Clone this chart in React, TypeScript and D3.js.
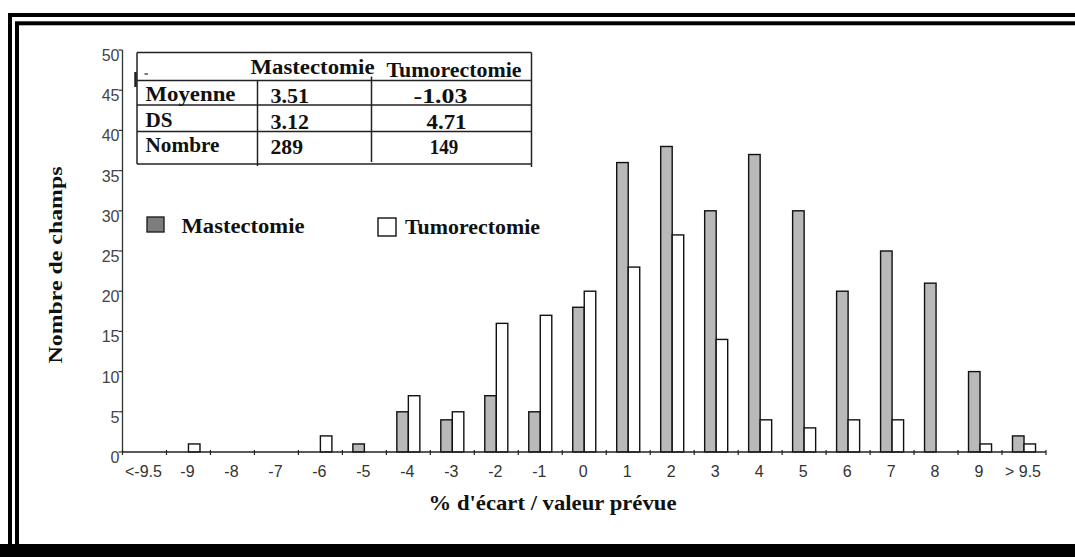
import React from "react";
import * as d3 from "d3";

const categories = ["<-9.5", "-9", "-8", "-7", "-6", "-5", "-4", "-3", "-2", "-1", "0", "1", "2", "3", "4", "5", "6", "7", "8", "9", "> 9.5"];
const mastectomie = [0, 0, 0, 0, 0, 1, 5, 4, 7, 5, 18, 36, 38, 30, 37, 30, 20, 25, 21, 10, 2];
const tumorectomie = [0, 1, 0, 0, 2, 0, 7, 5, 16, 17, 20, 23, 27, 14, 4, 3, 4, 4, 0, 1, 1];
const seriesNames = ["Mastectomie", "Tumorectomie"];
const yTickValues = [0, 5, 10, 15, 20, 25, 30, 35, 40, 45, 50];

const statHeaders = ["Mastectomie", "Tumorectomie"];
const statRows = ["Moyenne", "DS", "Nombre"];
const statMast = ["3.51", "3.12", "289"];
const statTum = ["-1.03", "4.71", "149"];

const yTitle = "Nombre de champs";
const xTitle = "% d'écart / valeur prévue";

const W = 1075;
const H = 557;
const serif = "'Liberation Serif', 'Times New Roman', serif";
const sans = "'Liberation Sans', Arial, sans-serif";

export default function App() {
  const x = d3.scaleBand<string>().domain(categories).range([122.5, 1046]);
  const sub = d3.scaleBand<string>().domain(seriesNames).range([0, x.bandwidth()]).paddingOuter(0.91);
  const y = d3.scaleLinear().domain([0, 50]).range([452, 50]);

  const bars: { key: string; x: number; y: number; w: number; h: number; fill: string }[] = [];
  categories.forEach((c, i) => {
    [mastectomie[i], tumorectomie[i]].forEach((v, s) => {
      if (v <= 0) return;
      bars.push({
        key: `${c}-${s}`,
        x: (x(c) as number) + (sub(seriesNames[s]) as number),
        y: y(v),
        w: sub.bandwidth(),
        h: y(0) - y(v),
        fill: s === 0 ? "#b9b9b9" : "#ffffff",
      });
    });
  });

  const boundaries = categories.map((c) => x(c) as number).concat([x.range()[1]]);

  // table geometry
  const tL = 137, tR = 531.5, tT = 52.5, tB = 164;
  const rowLines = [80.5, 105, 131.5];
  const col1 = 257.5, col2 = 371.5;
  const rowBase = [101, 127, 152];
  const rowLabelLen = [90, 27, 74];
  const mastLen = [38.5, 38.5, 32.5];
  const tumLen = [54, 40, 28.5];
  const tumCenter = [440.5, 446.5, 444];

  return (
    <div style={{ position: "absolute", left: 0, top: 0 }}>
      <svg width={W} height={H} style={{ display: "block", background: "#fff" }}>
        {/* double frame */}
        <rect x={10} y={15} width={W + 20} height={H} fill="none" stroke="#000" strokeWidth={4} />
        <rect x={17} y={23.3} width={W + 20} height={522.7} fill="none" stroke="#000" strokeWidth={4} />
        <rect x={0} y={544} width={W} height={13} fill="#000" />

        {/* bars */}
        {bars.map((b) => (
          <rect key={b.key} x={b.x} y={b.y} width={b.w} height={b.h} fill={b.fill} stroke="#111" strokeWidth={1.4} />
        ))}

        {/* y axis */}
        <line x1={122.5} x2={122.5} y1={y(50)} y2={y(0)} stroke="#333" strokeWidth={1.3} />
        {yTickValues.map((t) => (
          <g key={t}>
            <line x1={118.5} x2={122.5} y1={y(t)} y2={y(t)} stroke="#333" strokeWidth={1.2} />
            <text x={119.5} y={y(t) + 11} textAnchor="end" fontFamily={sans} fontSize={16} fill="#444">
              {t}
            </text>
          </g>
        ))}

        {/* x axis */}
        <line x1={122.5} x2={x.range()[1]} y1={y(0)} y2={y(0)} stroke="#222" strokeWidth={1.6} />
        {boundaries.map((bx, i) => (
          <line key={i} x1={bx} x2={bx} y1={y(0) - 2} y2={y(0) + 3} stroke="#222" strokeWidth={1.2} />
        ))}
        {categories.map((c) => (
          <text key={c} x={(x(c) as number) + x.bandwidth() / 2 - 1} y={477} textAnchor="middle" fontFamily={sans} fontSize={16} fill="#333">
            {c}
          </text>
        ))}

        {/* axis titles */}
        <text
          transform="translate(62,265) rotate(-90)"
          textAnchor="middle"
          fontFamily={serif}
          fontWeight="bold"
          fontSize={19}
          textLength={197}
          lengthAdjust="spacingAndGlyphs"
          fill="#111"
        >
          {yTitle}
        </text>
        <text x={552.5} y={510} textAnchor="middle" fontFamily={serif} fontWeight="bold" fontSize={21} textLength={248} lengthAdjust="spacingAndGlyphs" fill="#111">
          {xTitle}
        </text>

        {/* legend */}
        <rect x={147} y={217} width={17} height={15} fill="#7d7d7d" stroke="#222" strokeWidth={1.4} />
        <text x={181.5} y={233} fontFamily={serif} fontWeight="bold" fontSize={20} textLength={123} lengthAdjust="spacingAndGlyphs" fill="#111">
          {seriesNames[0]}
        </text>
        <rect x={378} y={218} width={18} height={18} fill="#fff" stroke="#111" strokeWidth={1.4} />
        <text x={405} y={234} fontFamily={serif} fontWeight="bold" fontSize={20} textLength={135} lengthAdjust="spacingAndGlyphs" fill="#111">
          {seriesNames[1]}
        </text>

        {/* stats table */}
        <g stroke="#222" strokeWidth={1.5}>
          <line x1={tL} x2={tR} y1={tT} y2={tT} />
          <line x1={tL} x2={tR} y1={tB} y2={tB} />
          <line x1={tL} x2={tL} y1={tT} y2={tB} />
          <line x1={tR} x2={tR} y1={tT} y2={tB + 3} />
          {rowLines.map((ry) => (
            <line key={ry} x1={tL} x2={tR} y1={ry} y2={ry} />
          ))}
          <line x1={col1} x2={col1} y1={rowLines[0]} y2={tB + 2} />
          <line x1={col2} x2={col2} y1={rowLines[0] - 4} y2={tB - 2} />
          <line x1={135.5} x2={135.5} y1={72} y2={87} strokeWidth={2.5} />
          <line x1={144.5} x2={148} y1={74} y2={74} strokeWidth={1.2} />
        </g>
        <text x={312.5} y={74} textAnchor="middle" fontFamily={serif} fontWeight="bold" fontSize={20} textLength={124} lengthAdjust="spacingAndGlyphs" fill="#111">
          {statHeaders[0]}
        </text>
        <text x={454} y={76.5} textAnchor="middle" fontFamily={serif} fontWeight="bold" fontSize={20} textLength={135} lengthAdjust="spacingAndGlyphs" fill="#111">
          {statHeaders[1]}
        </text>
        {statRows.map((r, i) => (
          <g key={r} fontFamily={serif} fontWeight="bold" fontSize={20} fill="#111">
            <text x={145.5} y={rowBase[i]} textLength={rowLabelLen[i]} lengthAdjust="spacingAndGlyphs">{r}</text>
            <text x={270.5} y={rowBase[i] + 2} textLength={mastLen[i]} lengthAdjust="spacingAndGlyphs">{statMast[i]}</text>
            <text x={tumCenter[i]} y={rowBase[i] + 2} textAnchor="middle" textLength={tumLen[i]} lengthAdjust="spacingAndGlyphs">{statTum[i]}</text>
          </g>
        ))}
      </svg>
    </div>
  );
}
